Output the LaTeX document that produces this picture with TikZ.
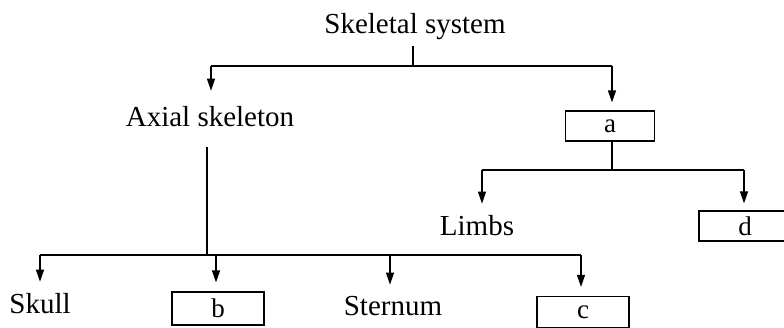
\documentclass[tikz,border=0pt]{standalone}
\usepackage{fontspec}
\setmainfont{Liberation Serif}
\usetikzlibrary{arrows.meta}
\begin{document}
\begin{tikzpicture}[x=1pt,y=-1pt,
  lbl/.style={inner sep=3pt,font=\fontsize{29}{34}\selectfont,anchor=base},
  bx/.style={draw,line width=1.2pt,inner sep=0pt,font=\fontsize{27}{30}\selectfont},
  ln/.style={line width=1.2pt},
  arr/.style={line width=1.2pt,-{Triangle[length=12pt,width=8pt]},shorten >=9pt}]
\useasboundingbox (0,0) rectangle (784,328);
% nodes
\node[lbl] (root) at (415,34) {Skeletal system};
\node[lbl] (axial) at (210,127) {Axial skeleton};
\node[bx,minimum width=89pt,minimum height=30pt] (a) at (610,126) {a};
\node[lbl] (limbs) at (477,236) {Limbs};
\node[bx,minimum width=92pt,minimum height=30pt] (d) at (745,226) {d};
\node[lbl] (skull) at (40,314) {Skull};
\node[bx,minimum width=92pt,minimum height=33pt] (b) at (218,308.5) {b};
\node[lbl] (sternum) at (393,316) {Sternum};
\node[bx,minimum width=92pt,minimum height=31pt] (c) at (583,312) {c};
% junctions
\coordinate (j0) at (413,66);
\coordinate (j0l) at (211,66);
\coordinate (j0r) at (612,66);
\coordinate (j1) at (612,170);
\coordinate (j1l) at (482,170);
\coordinate (j1r) at (744,170);
\coordinate (j2) at (207,255);
\coordinate (j2a) at (40,255);
\coordinate (j2b) at (216,255);
\coordinate (j2c) at (390,255);
\coordinate (j2d) at (581,255);
% connectors
\draw[ln,shorten <=3pt] (root.south -| j0) -- (j0);
\draw[ln] (j0l) -- (j0r);
\draw[arr,shorten >=13pt] (j0l) -- (j0l |- axial.north);
\draw[arr,shorten >=8pt] (j0r) -- (j0r |- a.north);
\draw[ln] (a.south -| j1) -- (j1);
\draw[ln] (j1l) -- (j1r);
\draw[arr] (j1l) -- (j1l |- limbs.north);
\draw[arr,shorten >=7pt] (j1r) -- (j1r |- d.north);
\draw[ln,shorten <=17pt] (axial.south -| j2) -- (j2);
\draw[ln] (j2a) -- (j2d);
\draw[arr] (j2a) -- (j2a |- skull.north);
\draw[arr] (j2b) -- (j2b |- b.north);
\draw[arr] (j2c) -- (j2c |- sternum.north);
\draw[arr] (j2d) -- (j2d |- c.north);
\end{tikzpicture}
\end{document}
